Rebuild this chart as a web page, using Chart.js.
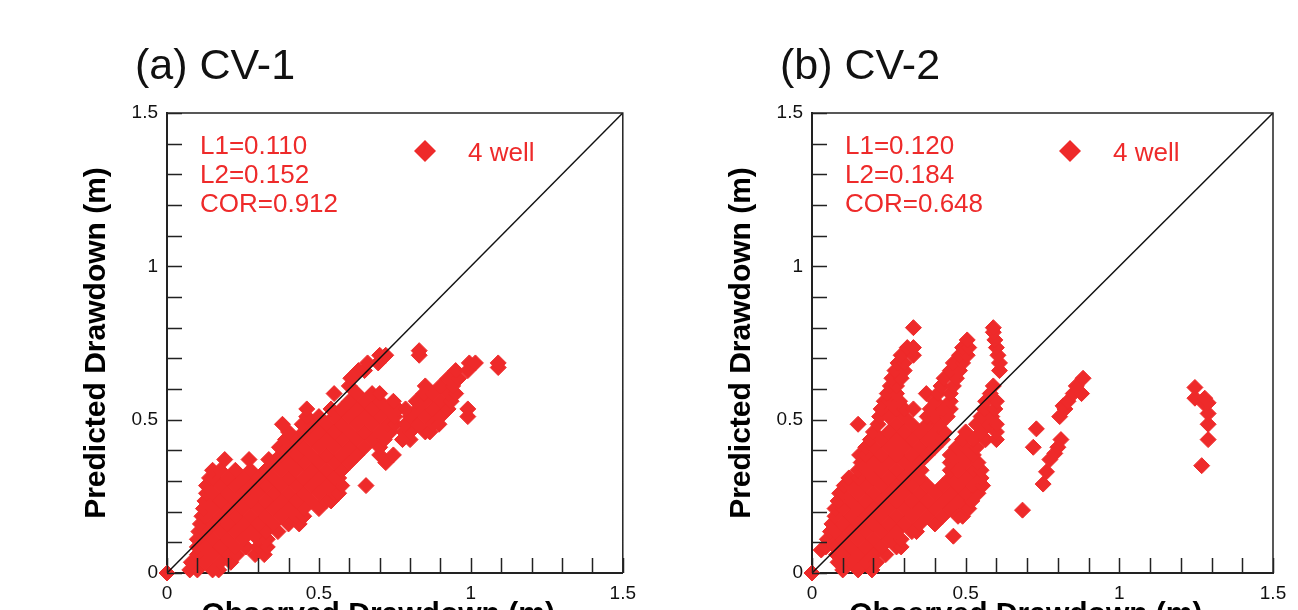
<!DOCTYPE html>
<html>
<head>
<meta charset="utf-8">
<script src="https://cdn.jsdelivr.net/npm/chart.js@4.4.1/dist/chart.umd.min.js"></script>
<style>
  html, body { margin: 0; padding: 0; background: #fff; overflow: hidden; }
  #wrap { position: relative; width: 1298px; height: 640px; }
  canvas { position: absolute; top: 0; }
  #cv1 { left: 0; }
  #cv2 { left: 645px; }
</style>
</head>
<body>
<div id="wrap">
  <canvas id="cv1" width="645" height="640"></canvas>
  <canvas id="cv2" width="653" height="640"></canvas>
</div>
<script>
// rango de ejes y marcas con etiqueta
const axisMin = 0;
const axisMax = 1.5;
const majorTicks = [0, 0.5, 1, 1.5];
const diagonal = [0, 1.5];

const titles = ['(a) CV-1', '(b) CV-2'];
const legendLabel = '4 well';
const statsA = ['L1=0.110', 'L2=0.152', 'COR=0.912'];
const statsB = ['L1=0.120', 'L2=0.184', 'COR=0.648'];

// cada fila: [predicho, [observados leidos a esa altura]]
const wellA = [
  [0.00, [0]],
  [0.01, [0.075, 0.10, 0.15, 0.17]],
  [0.035, [0.08, 0.125, 0.175, 0.21]],
  [0.06, [0.10, 0.15, 0.20, 0.23, 0.29, 0.32]],
  [0.085, [0.10, 0.125, 0.175, 0.225, 0.26, 0.30, 0.33]],
  [0.11, [0.10, 0.15, 0.20, 0.25, 0.30, 0.33]],
  [0.135, [0.105, 0.125, 0.175, 0.225, 0.275, 0.325, 0.365]],
  [0.16, [0.11, 0.15, 0.20, 0.25, 0.30, 0.35, 0.40, 0.435]],
  [0.185, [0.115, 0.125, 0.175, 0.225, 0.275, 0.325, 0.375, 0.425, 0.45]],
  [0.21, [0.12, 0.15, 0.20, 0.25, 0.30, 0.35, 0.40, 0.45, 0.50]],
  [0.235, [0.125, 0.175, 0.225, 0.275, 0.325, 0.375, 0.425, 0.475, 0.525, 0.54]],
  [0.26, [0.13, 0.15, 0.20, 0.25, 0.30, 0.35, 0.40, 0.45, 0.50, 0.55, 0.565]],
  [0.285, [0.13, 0.175, 0.225, 0.275, 0.325, 0.375, 0.425, 0.475, 0.525, 0.575, 0.655]],
  [0.31, [0.14, 0.15, 0.20, 0.25, 0.30, 0.35, 0.40, 0.45, 0.50, 0.55, 0.565]],
  [0.335, [0.15, 0.175, 0.225, 0.275, 0.325, 0.375, 0.425, 0.475, 0.525, 0.575]],
  [0.36, [0.35, 0.40, 0.45, 0.50, 0.55, 0.60, 0.72]],
  [0.37, [0.19, 0.27, 0.335]],
  [0.385, [0.375, 0.425, 0.475, 0.525, 0.575, 0.625, 0.70, 0.745]],
  [0.41, [0.37, 0.40, 0.45, 0.50, 0.55, 0.60, 0.65, 0.70]],
  [0.435, [0.39, 0.425, 0.475, 0.525, 0.575, 0.625, 0.675, 0.715, 0.775, 0.80]],
  [0.46, [0.40, 0.45, 0.50, 0.55, 0.60, 0.65, 0.70, 0.735, 0.78, 0.80, 0.85, 0.865]],
  [0.485, [0.38, 0.445, 0.475, 0.525, 0.575, 0.625, 0.675, 0.725, 0.75, 0.785, 0.825, 0.875, 0.895]],
  [0.51, [0.46, 0.50, 0.55, 0.60, 0.65, 0.70, 0.75, 0.80, 0.85, 0.90, 0.99]],
  [0.535, [0.46, 0.54, 0.575, 0.625, 0.675, 0.725, 0.76, 0.785, 0.825, 0.875, 0.925, 0.99]],
  [0.56, [0.60, 0.65, 0.70, 0.745, 0.82, 0.85, 0.90, 0.935]],
  [0.585, [0.55, 0.625, 0.675, 0.70, 0.845, 0.875, 0.925, 0.95]],
  [0.61, [0.60, 0.85, 0.90, 0.94]],
  [0.635, [0.605, 0.925, 0.96]],
  [0.66, [0.63, 0.65, 0.95, 0.99]],
  [0.67, [1.09]],
  [0.685, [0.66, 0.695, 0.995, 1.015, 1.09]],
  [0.71, [0.70, 0.72, 0.83]],
  [0.725, [0.83]]
];

const wellB = [
  [0.00, [0]],
  [0.01, [0.10, 0.15, 0.195]],
  [0.035, [0.085, 0.125, 0.175, 0.21]],
  [0.06, [0.08, 0.10, 0.15, 0.20, 0.24]],
  [0.075, [0.03]],
  [0.085, [0.045, 0.075, 0.125, 0.175, 0.225, 0.275, 0.29]],
  [0.11, [0.05, 0.10, 0.15, 0.20, 0.25, 0.29]],
  [0.12, [0.46]],
  [0.135, [0.06, 0.075, 0.125, 0.175, 0.225, 0.275, 0.325, 0.34]],
  [0.16, [0.065, 0.10, 0.15, 0.20, 0.25, 0.30, 0.35, 0.40]],
  [0.185, [0.075, 0.125, 0.175, 0.225, 0.275, 0.325, 0.375, 0.425, 0.475, 0.49]],
  [0.205, [0.685]],
  [0.21, [0.075, 0.10, 0.15, 0.20, 0.25, 0.30, 0.35, 0.40, 0.45, 0.50, 0.51]],
  [0.235, [0.085, 0.125, 0.175, 0.225, 0.275, 0.325, 0.375, 0.425, 0.475, 0.52]],
  [0.26, [0.09, 0.10, 0.15, 0.20, 0.25, 0.30, 0.35, 0.40, 0.45, 0.50, 0.54]],
  [0.285, [0.105, 0.125, 0.175, 0.225, 0.275, 0.325, 0.375, 0.425, 0.475, 0.525, 0.555]],
  [0.29, [0.752]],
  [0.31, [0.12, 0.15, 0.20, 0.25, 0.30, 0.35, 0.45, 0.50, 0.55]],
  [0.33, [0.763]],
  [0.335, [0.15, 0.175, 0.225, 0.275, 0.325, 0.355, 0.45, 0.475, 0.525, 0.55]],
  [0.35, [1.268]],
  [0.36, [0.16, 0.20, 0.25, 0.30, 0.35, 0.45, 0.50, 0.54]],
  [0.37, [0.774]],
  [0.385, [0.155, 0.175, 0.225, 0.275, 0.325, 0.375, 0.45, 0.475, 0.525]],
  [0.39, [0.79]],
  [0.41, [0.175, 0.20, 0.25, 0.30, 0.35, 0.40, 0.47, 0.50, 0.535, 0.72, 0.80]],
  [0.435, [0.19, 0.225, 0.275, 0.325, 0.375, 0.425, 0.49, 0.525, 0.565, 0.60, 0.81, 1.289]],
  [0.46, [0.20, 0.25, 0.30, 0.35, 0.40, 0.43, 0.50, 0.55, 0.60]],
  [0.47, [0.73]],
  [0.485, [0.15, 0.215, 0.275, 0.325, 0.375, 0.415, 0.535, 0.575, 0.60, 1.289]],
  [0.51, [0.22, 0.25, 0.30, 0.375, 0.40, 0.44, 0.55, 0.585, 0.806]],
  [0.52, [1.289]],
  [0.535, [0.225, 0.275, 0.30, 0.33, 0.385, 0.425, 0.45, 0.56, 0.595, 0.823]],
  [0.545, [0.817]],
  [0.555, [1.289, 1.273]],
  [0.56, [0.235, 0.25, 0.285, 0.40, 0.45, 0.565, 0.60, 0.833]],
  [0.57, [1.246, 1.278]],
  [0.585, [0.245, 0.275, 0.372, 0.41, 0.45, 0.58, 0.85, 0.877]],
  [0.605, [1.246]],
  [0.61, [0.255, 0.275, 0.42, 0.46, 0.59, 0.86]],
  [0.635, [0.26, 0.29, 0.43, 0.47, 0.882]],
  [0.66, [0.27, 0.30, 0.45, 0.48, 0.61]],
  [0.685, [0.28, 0.30, 0.46, 0.49, 0.61]],
  [0.71, [0.29, 0.33, 0.48, 0.505, 0.605]],
  [0.735, [0.31, 0.33, 0.49, 0.51, 0.60]],
  [0.76, [0.505, 0.595]],
  [0.785, [0.59]],
  [0.80, [0.33, 0.59]]
];

const RED = '#ee2a2a';
const AXIS = '#222';
const FONT = "'Liberation Sans', Arial, sans-serif";
const TICK = 15;

function esMayor(v) {
  return majorTicks.some(m => Math.abs(m - v) < 1e-6);
}

// marcas hacia adentro + marco superior y derecho
const marcoPlugin = {
  id: 'marco',
  afterDatasetsDraw(chart) {
    const { ctx, chartArea: a, scales: { x, y } } = chart;
    ctx.save();
    ctx.strokeStyle = AXIS;
    ctx.lineWidth = 1.5;
    ctx.beginPath();
    x.ticks.forEach(t => {
      const px = Math.round(x.getPixelForValue(t.value)) + 0.5;
      ctx.moveTo(px, a.bottom);
      ctx.lineTo(px, a.bottom - TICK);
    });
    y.ticks.forEach(t => {
      const py = Math.round(y.getPixelForValue(t.value)) + 0.5;
      ctx.moveTo(a.left, py);
      ctx.lineTo(a.left + TICK, py);
    });
    ctx.moveTo(a.left, a.top);
    ctx.lineTo(a.right, a.top);
    ctx.lineTo(a.right, a.bottom);
    ctx.stroke();
    ctx.restore();
  }
};

function textoPlugin(titulo, stats) {
  return {
    id: 'texto',
    afterDraw(chart) {
      const { ctx, chartArea: a } = chart;
      ctx.save();
      ctx.textBaseline = 'alphabetic';
      ctx.textAlign = 'left';
      ctx.fillStyle = '#111';
      ctx.font = `43px ${FONT}`;
      ctx.fillText(titulo, a.left - 32, a.top - 34);

      ctx.fillStyle = RED;
      ctx.font = `26px ${FONT}`;
      stats.forEach((s, i) => ctx.fillText(s, a.left + 33, a.top + 41 + i * 29));

      // leyenda
      const cx = a.left + 258, cy = a.top + 38, r = 11;
      ctx.beginPath();
      ctx.moveTo(cx - r, cy);
      ctx.lineTo(cx, cy - r);
      ctx.lineTo(cx + r, cy);
      ctx.lineTo(cx, cy + r);
      ctx.closePath();
      ctx.fill();
      ctx.fillText(legendLabel, a.left + 301, a.top + 48);
      ctx.restore();
    }
  };
}

function crearGrafico(id, filas, titulo, stats, padRight) {
  const puntos = filas.flatMap(([y, xs]) => xs.map(x => ({ x, y })));
  return new Chart(document.getElementById(id), {
    type: 'scatter',
    data: {
      datasets: [
        {
          data: diagonal.map(v => ({ x: v, y: v })),
          showLine: true,
          borderColor: '#111',
          borderWidth: 1.5,
          pointRadius: 0
        },
        {
          label: legendLabel,
          data: puntos,
          clip: 10,
          pointStyle: 'rectRot',
          pointRadius: 8,
          pointBackgroundColor: RED,
          pointBorderColor: RED,
          pointBorderWidth: 1
        }
      ]
    },
    options: {
      responsive: false,
      animation: false,
      events: [],
      layout: { padding: { left: 0, top: 113, right: padRight, bottom: 0 } },
      plugins: { legend: { display: false }, tooltip: { enabled: false } },
      scales: {
        x: {
          type: 'linear', min: axisMin, max: axisMax,
          afterFit: s => { s.height = 67; },
          grid: { display: false, drawTicks: false },
          border: { display: true, color: AXIS, width: 2 },
          ticks: {
            stepSize: 0.1, autoSkip: false, maxRotation: 0, padding: 9,
            color: '#111', font: { family: FONT, size: 19 },
            callback: v => esMayor(v) ? String(+v.toFixed(1)) : ''
          },
          title: {
            display: true, text: 'Observed Drawdown (m)    ', color: '#000',
            font: { family: FONT, size: 30, weight: 'bold' },
            padding: { top: 0, bottom: 7 }
          }
        },
        y: {
          type: 'linear', min: axisMin, max: axisMax,
          afterFit: s => { s.width = 167; },
          grid: { display: false, drawTicks: false },
          border: { display: true, color: AXIS, width: 2 },
          ticks: {
            stepSize: 0.1, autoSkip: false, padding: 9,
            color: '#111', font: { family: FONT, size: 19 },
            callback: v => esMayor(v) ? String(+v.toFixed(1)) : ''
          },
          title: {
            display: true, text: 'Predicted Drawdown (m)', color: '#000',
            font: { family: FONT, size: 30, weight: 'bold' },
            padding: { top: 79, bottom: 0 }
          }
        }
      }
    },
    plugins: [marcoPlugin, textoPlugin(titulo, stats)]
  });
}

crearGrafico('cv1', wellA, titles[0], statsA, 17);
crearGrafico('cv2', wellB, titles[1], statsB, 25);
</script>
</body>
</html>
